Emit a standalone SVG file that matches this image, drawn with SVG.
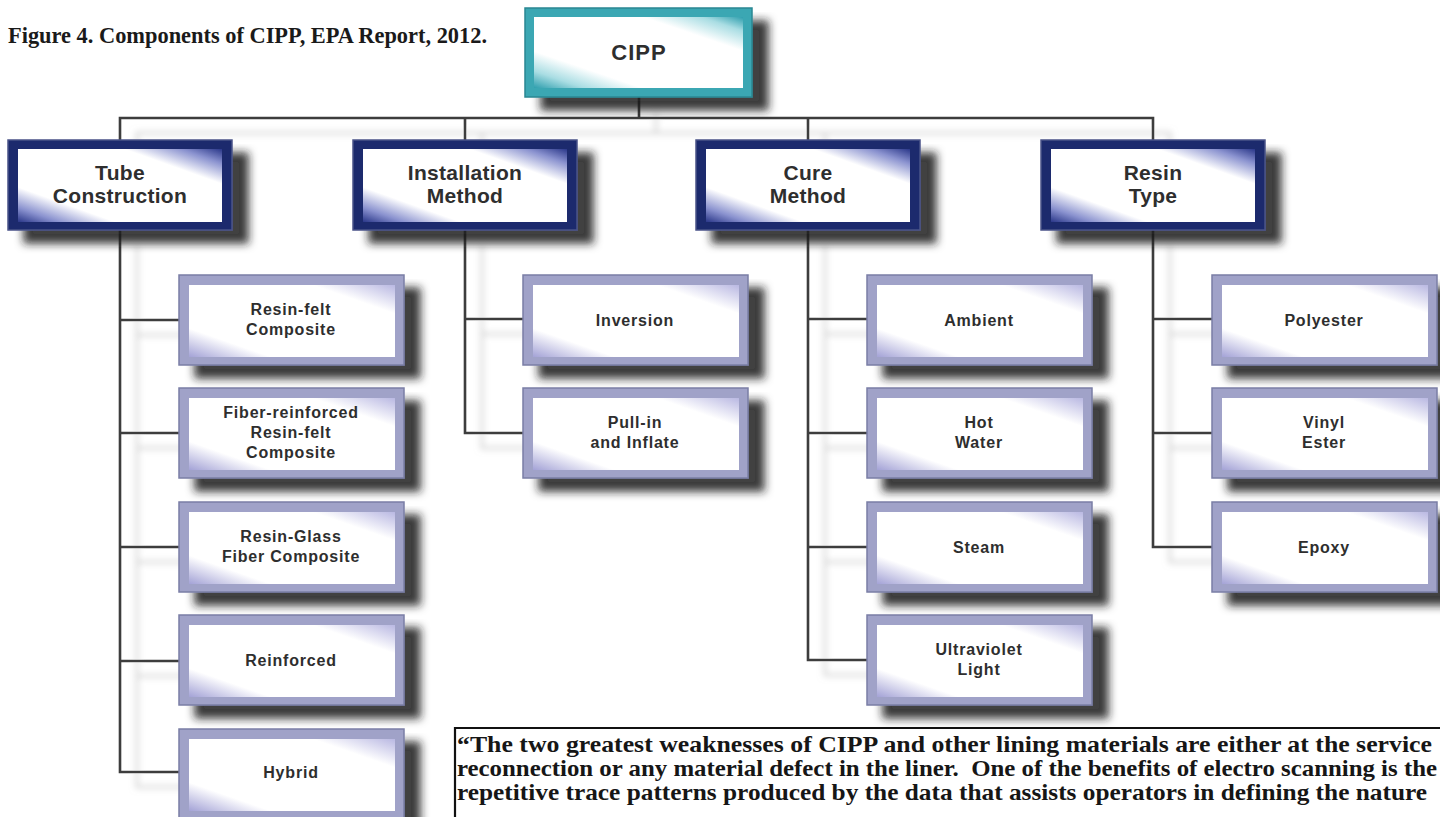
<svg xmlns="http://www.w3.org/2000/svg" width="1440" height="817" viewBox="0 0 1440 817">
<defs>
<linearGradient id="gCat" x1="0" y1="1" x2="1" y2="0">
<stop offset="0" stop-color="#2a3789"/><stop offset="0.1" stop-color="#8a92cf"/><stop offset="0.24" stop-color="#ffffff"/><stop offset="0.76" stop-color="#ffffff"/><stop offset="0.9" stop-color="#8a92cf"/><stop offset="1" stop-color="#2a3789"/>
</linearGradient>
<linearGradient id="gRoot" x1="0" y1="1" x2="1" y2="0">
<stop offset="0" stop-color="#2f9fae"/><stop offset="0.12" stop-color="#a9dde3"/><stop offset="0.26" stop-color="#ffffff"/><stop offset="0.76" stop-color="#ffffff"/><stop offset="0.9" stop-color="#a9dde3"/><stop offset="1" stop-color="#2f9fae"/>
</linearGradient>
<linearGradient id="gChild" x1="0" y1="1" x2="1" y2="0">
<stop offset="0" stop-color="#a3a2d6"/><stop offset="0.2" stop-color="#ffffff"/><stop offset="0.8" stop-color="#ffffff"/><stop offset="1" stop-color="#b9b8e2"/>
</linearGradient>
<filter id="shadow" x="-10%" y="-10%" width="130%" height="145%">
<feGaussianBlur in="SourceAlpha" stdDeviation="4"/>
<feOffset dx="16" dy="13" result="b"/>
<feFlood flood-color="#1c1c1c" flood-opacity="0.85"/>
<feComposite in2="b" operator="in"/>
<feMerge><feMergeNode/><feMergeNode in="SourceGraphic"/></feMerge>
</filter>
<filter id="lshadow" filterUnits="userSpaceOnUse" x="0" y="0" width="1440" height="817">
<feGaussianBlur in="SourceAlpha" stdDeviation="3"/>
<feOffset dx="17" dy="15" result="b"/>
<feFlood flood-color="#c4c4c4" flood-opacity="0.8"/>
<feComposite in2="b" operator="in"/>
<feMerge><feMergeNode/><feMergeNode in="SourceGraphic"/></feMerge>
</filter>
</defs>
<style>
.cap{font-family:"Liberation Serif","Times New Roman",serif;font-weight:bold;font-size:23px;fill:#1a1a1a}
.quote{font-family:"Liberation Serif","Times New Roman",serif;font-weight:bold;font-size:24px;fill:#161616;white-space:pre}
.conn path{stroke:#3e3e3e;stroke-width:2.6;fill:none}
.rootF{fill:#3aa7b3;stroke:#2a8792;stroke-width:1.5;filter:url(#shadow)}
.rootI{fill:url(#gRoot)}
.catF{fill:#1f2b6d;stroke:#4a5388;stroke-width:1.5;filter:url(#shadow)}
.catI{fill:url(#gCat)}
.chF{fill:#a0a2c8;stroke:#7a7ea5;stroke-width:1.5;filter:url(#shadow)}
.chI{fill:url(#gChild)}
.lbl{font-family:"Liberation Sans",Arial,sans-serif;font-weight:bold;fill:#2e2e2e;text-anchor:middle}
.rootT{font-size:22px;letter-spacing:1px}
.catT{font-size:21px;letter-spacing:0.3px}
.chT{font-size:16px;letter-spacing:0.8px}
</style>
<rect width="1440" height="817" fill="#ffffff"/>
<text class="cap" x="8" y="43" textLength="479" lengthAdjust="spacingAndGlyphs">Figure 4. Components of CIPP, EPA Report, 2012.</text>

<g id="connectors" class="conn" filter="url(#lshadow)">
<path d="M639 97 V118"/>
<path d="M120 140 V118 H1153 V140"/>
<path d="M465 118 V140"/>
<path d="M808 118 V140"/>
<path d="M120 230 V772 H179"/>
<path d="M120 320 H179 M120 433 H179 M120 547 H179 M120 661 H179"/>
<path d="M465 230 V433 H523 M465 319 H523"/>
<path d="M808 230 V660 H867 M808 319 H867 M808 433 H867 M808 547 H867"/>
<path d="M1153 230 V547 H1212 M1153 319 H1212 M1153 433 H1212"/>
</g>

<g id="node-cipp" transform="translate(525,8)"><rect class="rootF" width="227" height="89"/><rect class="rootI" x="9" y="9" width="209" height="71"/><text class="lbl rootT" x="114" y="52">CIPP</text></g>

<g id="node-tube" transform="translate(8,140)"><rect class="catF" width="224" height="90"/><rect class="catI" x="10" y="9" width="204" height="73"/><text class="lbl catT" x="112" y="40">Tube</text><text class="lbl catT" x="112" y="63">Construction</text></g>
<g id="node-install" transform="translate(353,140)"><rect class="catF" width="224" height="90"/><rect class="catI" x="10" y="9" width="204" height="73"/><text class="lbl catT" x="112" y="40">Installation</text><text class="lbl catT" x="112" y="63">Method</text></g>
<g id="node-cure" transform="translate(696,140)"><rect class="catF" width="224" height="90"/><rect class="catI" x="10" y="9" width="204" height="73"/><text class="lbl catT" x="112" y="40">Cure</text><text class="lbl catT" x="112" y="63">Method</text></g>
<g id="node-resin" transform="translate(1041,140)"><rect class="catF" width="224" height="90"/><rect class="catI" x="10" y="9" width="204" height="73"/><text class="lbl catT" x="112" y="40">Resin</text><text class="lbl catT" x="112" y="63">Type</text></g>

<g id="node-resin-felt" transform="translate(179,275)"><rect class="chF" width="225" height="90"/><rect class="chI" x="10" y="10" width="206" height="72"/><text class="lbl chT" x="112" y="40">Resin-felt</text><text class="lbl chT" x="112" y="60">Composite</text></g>
<g id="node-fiber" transform="translate(179,388)"><rect class="chF" width="225" height="90"/><rect class="chI" x="10" y="10" width="206" height="72"/><text class="lbl chT" x="112" y="30">Fiber-reinforced</text><text class="lbl chT" x="112" y="50">Resin-felt</text><text class="lbl chT" x="112" y="70">Composite</text></g>
<g id="node-glass" transform="translate(179,502)"><rect class="chF" width="225" height="90"/><rect class="chI" x="10" y="10" width="206" height="72"/><text class="lbl chT" x="112" y="40">Resin-Glass</text><text class="lbl chT" x="112" y="60">Fiber Composite</text></g>
<g id="node-reinforced" transform="translate(179,615)"><rect class="chF" width="225" height="90"/><rect class="chI" x="10" y="10" width="206" height="72"/><text class="lbl chT" x="112" y="51">Reinforced</text></g>
<g id="node-hybrid" transform="translate(179,729)"><rect class="chF" width="225" height="90"/><rect class="chI" x="10" y="10" width="206" height="72"/><text class="lbl chT" x="112" y="49">Hybrid</text></g>

<g id="node-inversion" transform="translate(523,275)"><rect class="chF" width="225" height="90"/><rect class="chI" x="10" y="10" width="206" height="72"/><text class="lbl chT" x="112" y="51">Inversion</text></g>
<g id="node-pullin" transform="translate(523,388)"><rect class="chF" width="225" height="90"/><rect class="chI" x="10" y="10" width="206" height="72"/><text class="lbl chT" x="112" y="40">Pull-in</text><text class="lbl chT" x="112" y="60">and Inflate</text></g>

<g id="node-ambient" transform="translate(867,275)"><rect class="chF" width="225" height="90"/><rect class="chI" x="10" y="10" width="206" height="72"/><text class="lbl chT" x="112" y="51">Ambient</text></g>
<g id="node-hotwater" transform="translate(867,388)"><rect class="chF" width="225" height="90"/><rect class="chI" x="10" y="10" width="206" height="72"/><text class="lbl chT" x="112" y="40">Hot</text><text class="lbl chT" x="112" y="60">Water</text></g>
<g id="node-steam" transform="translate(867,502)"><rect class="chF" width="225" height="90"/><rect class="chI" x="10" y="10" width="206" height="72"/><text class="lbl chT" x="112" y="51">Steam</text></g>
<g id="node-uv" transform="translate(867,615)"><rect class="chF" width="225" height="90"/><rect class="chI" x="10" y="10" width="206" height="72"/><text class="lbl chT" x="112" y="40">Ultraviolet</text><text class="lbl chT" x="112" y="60">Light</text></g>

<g id="node-polyester" transform="translate(1212,275)"><rect class="chF" width="225" height="90"/><rect class="chI" x="10" y="10" width="206" height="72"/><text class="lbl chT" x="112" y="51">Polyester</text></g>
<g id="node-vinyl" transform="translate(1212,388)"><rect class="chF" width="225" height="90"/><rect class="chI" x="10" y="10" width="206" height="72"/><text class="lbl chT" x="112" y="40">Vinyl</text><text class="lbl chT" x="112" y="60">Ester</text></g>
<g id="node-epoxy" transform="translate(1212,502)"><rect class="chF" width="225" height="90"/><rect class="chI" x="10" y="10" width="206" height="72"/><text class="lbl chT" x="112" y="51">Epoxy</text></g>

<g id="quote">
<path d="M455 817 V728 H1440" fill="none" stroke="#111111" stroke-width="2.2"/>
<text class="quote" x="457" y="752" textLength="975" lengthAdjust="spacingAndGlyphs">“The two greatest weaknesses of CIPP and other lining materials are either at the service</text>
<text class="quote" x="457" y="776" textLength="980" lengthAdjust="spacingAndGlyphs">reconnection or any material defect in the liner.  One of the benefits of electro scanning is the</text>
<text class="quote" x="457" y="800" textLength="970" lengthAdjust="spacingAndGlyphs">repetitive trace patterns produced by the data that assists operators in defining the nature</text>
</g>
</svg>
